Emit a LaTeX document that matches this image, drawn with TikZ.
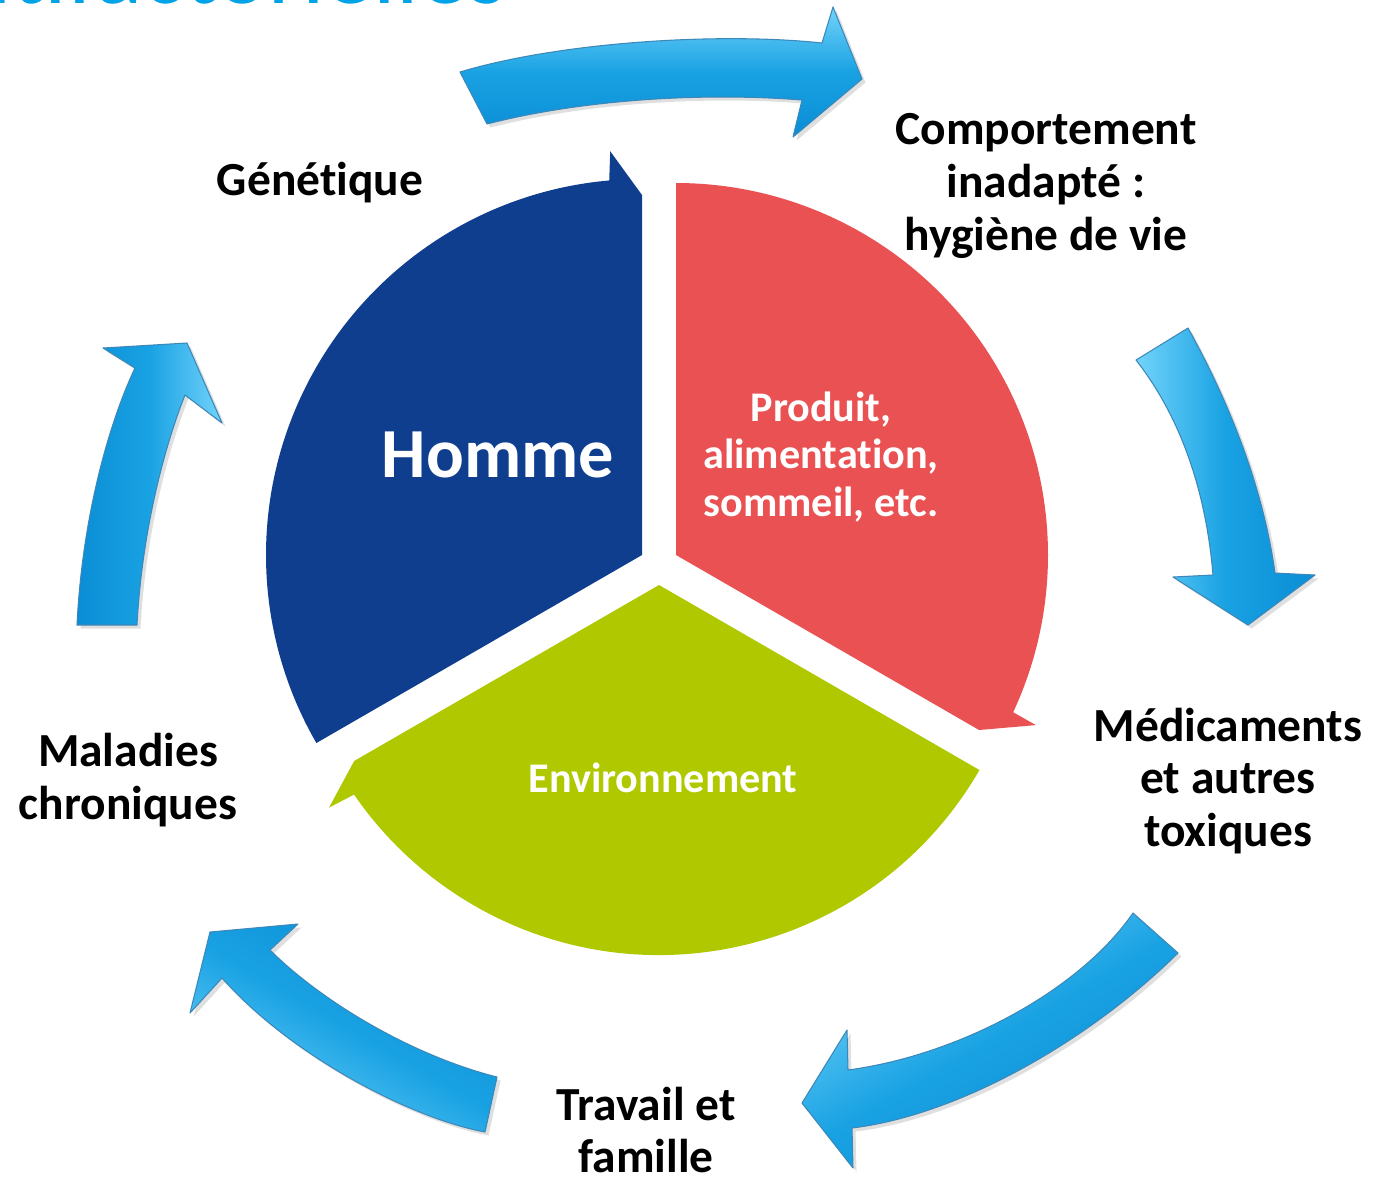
\documentclass[tikz,border=0pt]{standalone}
\usepackage{fontspec}
\setmainfont{Carlito}[Ligatures=NoCommon]
\usetikzlibrary{shadows}
\definecolor{homme}{HTML}{103E8F}
\definecolor{prod}{HTML}{EA5153}
\definecolor{envi}{HTML}{AFC800}
\definecolor{arrhi}{HTML}{72D3FA}
\definecolor{arrmid}{HTML}{19A2E3}
\definecolor{arrlo}{HTML}{0A8DD5}
\definecolor{arredge}{HTML}{3C88B8}
\definecolor{titlecol}{HTML}{00A3E8}
\tikzset{
  cyclearrow/.style={top color=arrhi, bottom color=arrlo, middle color=arrmid,
    draw=arredge, line width=0.3pt, line join=round,
    drop shadow={shadow xshift=1pt, shadow yshift=-1pt, opacity=0.25}},
  lbl/.style={font=\fontsize{13.5}{15}\selectfont\bfseries, align=center, text=black, inner sep=0pt},
  inlbl/.style={font=\fontsize{12}{13.4}\selectfont\bfseries, align=center, text=white, inner sep=0pt}
}
\begin{document}
\begin{tikzpicture}[x=0.01cm,y=-0.01cm]
\clip (0,0) rectangle (1373,1178);
\fill[white] (0,0) rectangle (1373,1178);

% partly visible title
\node[anchor=base west, inner sep=0pt, text=titlecol, font=\fontsize{28}{30}\selectfont] (title) at (-142,3) {multifactorielles};

% sectors
\begin{scope}[shift={(642,555)}]
  \fill[homme] (0,0) -- (-210:376) arc[start angle=-210, end angle=-95, radius=376]
    -- (-94.5:405) -- (-90:360) -- cycle;
\end{scope}
\begin{scope}[shift={(676,555)}]
  \fill[prod] (0,0) -- (-90:372) arc[start angle=-90, end angle=25, radius=372]
    -- (25.3:398) -- (30:350) -- cycle;
\end{scope}
\begin{scope}[shift={(659,585)}]
  \fill[envi] (0,0) -- (30:370) arc[start angle=30, end angle=145.5, radius=370]
    -- (146:398) -- (150:352) -- cycle;
\end{scope}

% surrounding arrows
\path[cyclearrow, shading angle=0]
  (460,72) .. controls (560,42) and (720,32) .. (822,43) -- (833,7) -- (862,79)
  -- (793,137) -- (802,100) .. controls (700,92) and (580,100) .. (487,124) -- cycle;
\path[cyclearrow, shading angle=90]
  (1188,328) .. controls (1225,395) and (1262,480) .. (1275,573) -- (1315,575)
  -- (1248,625) -- (1173,577) -- (1213,575) .. controls (1205,480) and (1175,410) .. (1136,360) -- cycle;
\path[cyclearrow, shading angle=30]
  (1178,953) .. controls (1090,1040) and (960,1115) .. (852,1128) -- (853,1168)
  -- (802,1103) -- (847,1030) -- (848,1070) .. controls (960,1055) and (1080,990) .. (1133,913) -- cycle;
\path[cyclearrow, shading angle=150]
  (485,1132) .. controls (410,1118) and (290,1055) .. (222,978) -- (190,1013)
  -- (210,932) -- (298,924) -- (270,950) .. controls (320,1000) and (410,1055) .. (497,1077) -- cycle;
\path[cyclearrow, shading angle=-90]
  (137,625) .. controls (142,530) and (165,445) .. (185,395) -- (222,423)
  -- (187,343) -- (103,348) -- (135,368) .. controls (108,425) and (82,520) .. (77,625) -- cycle;

% texts
\node[inlbl, font=\fontsize{20}{24}\selectfont\bfseries] (homme) at (498,455) {Homme};
\node[inlbl] (produit) at (821,457) {Produit,\\alimentation,\\sommeil, etc.};
\node[inlbl] (env) at (663,778) {Environnement};

\node[lbl] (gen) at (320,183) {Génétique};
\node[lbl] (comp) at (1046,186) {Comportement\\inadapté :\\hygiène de vie};
\node[lbl] (med) at (1228,781) {Médicaments\\et autres\\toxiques};
\node[lbl] (trav) at (646,1130) {Travail et\\famille};
\node[lbl] (mal) at (128,780) {Maladies\\chroniques};
\end{tikzpicture}
\end{document}
